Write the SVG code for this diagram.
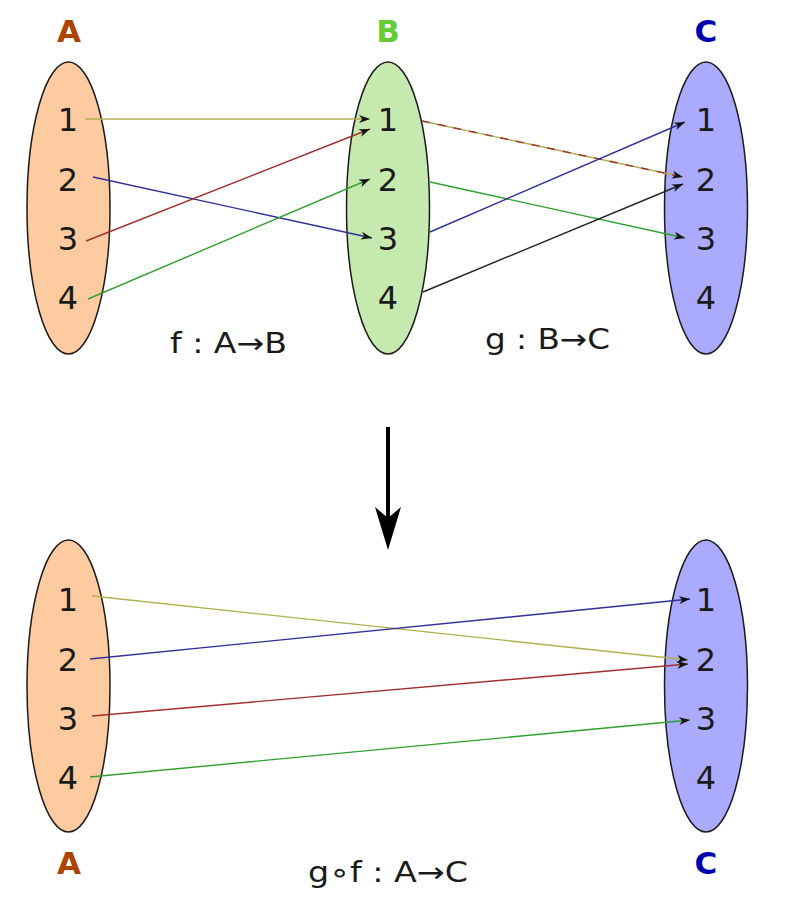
<svg xmlns="http://www.w3.org/2000/svg" width="800" height="918" viewBox="0 0 800 918">
<style>
.set{stroke:#1a1a1a;stroke-width:1.5}
.num{font-family:"DejaVu Sans",sans-serif;font-size:32px;fill:#1a1a1a;text-anchor:middle}
.lbl{font-family:"DejaVu Sans",sans-serif;font-size:31px;font-weight:bold;text-anchor:middle}
.fn{font-family:"DejaVu Sans",sans-serif;font-size:28px;fill:#1a1a1a}
.c{fill:none;stroke-width:1.4;marker-end:url(#ah)}
.y{stroke:#b0b050}.b{stroke:#303099}.r{stroke:#a03030}.g{stroke:#30a030}.k{stroke:#222}
</style>
<defs>
<marker id="ah" markerUnits="userSpaceOnUse" viewBox="0 0 11 8" refX="11" refY="4" markerWidth="11" markerHeight="8" orient="auto">
<path d="M11,4 L0,0 L3.2,4 L0,8 Z" fill="#111"/>
</marker>
</defs>
<rect width="800" height="918" fill="#fff"/>
<g id="setA-top">
<ellipse class="set" cx="68.5" cy="208" rx="41.5" ry="146" fill="#fecba1"/>
<text class="lbl" x="69" y="42" fill="#aa4400">A</text>
<text class="num" x="68" y="131">1</text><text class="num" x="68" y="191">2</text><text class="num" x="68" y="250">3</text><text class="num" x="68" y="309">4</text>
</g>
<g id="setB-top">
<ellipse class="set" cx="388" cy="208" rx="41.5" ry="146" fill="#c6e9af"/>
<text class="lbl" x="388" y="42" fill="#66cc33">B</text>
<text class="num" x="388" y="131">1</text><text class="num" x="388" y="191">2</text><text class="num" x="388" y="250">3</text><text class="num" x="388" y="309">4</text>
</g>
<g id="setC-top">
<ellipse class="set" cx="706" cy="208" rx="41.5" ry="146" fill="#aaaaff"/>
<text class="lbl" x="706" y="42" fill="#0000aa">C</text>
<text class="num" x="706" y="131">1</text><text class="num" x="706" y="191">2</text><text class="num" x="706" y="250">3</text><text class="num" x="706" y="309">4</text>
</g>
<g id="setA-bottom">
<ellipse class="set" cx="68.5" cy="686" rx="41.5" ry="146" fill="#fecba1"/>
<text class="lbl" x="69" y="874" fill="#aa4400">A</text>
<text class="num" x="68" y="611">1</text><text class="num" x="68" y="671">2</text><text class="num" x="68" y="730">3</text><text class="num" x="68" y="789">4</text>
</g>
<g id="setC-bottom">
<ellipse class="set" cx="706" cy="686" rx="41.5" ry="146" fill="#aaaaff"/>
<text class="lbl" x="706" y="874" fill="#0000aa">C</text>
<text class="num" x="706" y="611">1</text><text class="num" x="706" y="671">2</text><text class="num" x="706" y="730">3</text><text class="num" x="706" y="789">4</text>
</g>
<g id="labels">
<text class="fn" x="170" y="353" textLength="117" lengthAdjust="spacingAndGlyphs">f : A→B</text>
<text class="fn" x="485" y="349" textLength="125" lengthAdjust="spacingAndGlyphs">g : B→C</text>
<text class="fn" x="308" y="882" textLength="160" lengthAdjust="spacingAndGlyphs">g∘f : A→C</text>
</g>
<g id="connectors">
<line class="c y" x1="85" y1="119" x2="370" y2="119"/>
<line class="c b" x1="93" y1="177" x2="372" y2="238"/>
<line class="c r" x1="86" y1="241" x2="370" y2="129"/>
<line class="c g" x1="88" y1="299" x2="370" y2="179"/>
<line class="c y" x1="422" y1="121" x2="683" y2="177"/>
<line x1="422" y1="121" x2="675" y2="175.3" stroke="#a03030" stroke-width="1.4" stroke-dasharray="8,8"/>
<line class="c g" x1="430" y1="182" x2="685" y2="238"/>
<line class="c b" x1="430" y1="232" x2="685" y2="122"/>
<line class="c k" x1="423" y1="292" x2="683" y2="184"/>
<line class="c y" x1="92" y1="596" x2="688" y2="660"/>
<line class="c b" x1="90" y1="659" x2="690" y2="599"/>
<line class="c r" x1="92" y1="716" x2="688" y2="664"/>
<line class="c g" x1="90" y1="777" x2="690" y2="720"/>
<line x1="388" y1="427" x2="388" y2="525" stroke="#000" stroke-width="4"/>
<path d="M388,550 L375,507 L388,518 L401,507 Z" fill="#000"/>
</g>
</svg>
